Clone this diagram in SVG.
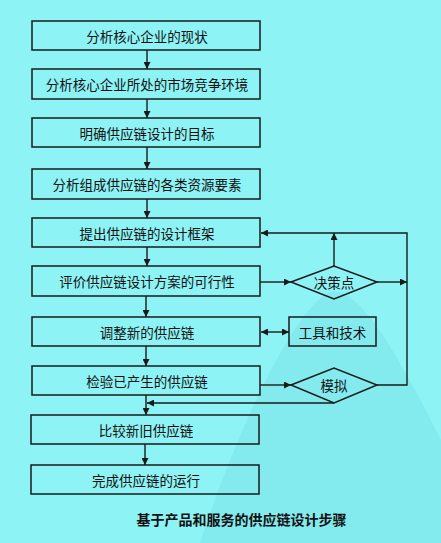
<svg xmlns="http://www.w3.org/2000/svg" width="441" height="543" viewBox="0 0 441 543">
<defs>
<style>
.box{fill:none;stroke:#1a1a1a;stroke-width:1.5}
.t{font-family:"Noto Sans CJK SC","Noto Sans CJK JP",sans-serif;font-size:13.5px;fill:#111;text-anchor:middle;dominant-baseline:central}
.ln{fill:none;stroke:#1a1a1a;stroke-width:1.4}
.cap{font-family:"Noto Sans CJK SC",sans-serif;font-size:14px;font-weight:700;fill:#111;text-anchor:middle;dominant-baseline:central}
</style>
<marker id="ah" viewBox="0 0 10 10" refX="10" refY="5" markerWidth="7" markerHeight="7" markerUnits="userSpaceOnUse" orient="auto-start-reverse">
<path d="M0,0 L10,5 L0,10 Z" fill="#1a1a1a"/>
</marker>
</defs>
<rect width="441" height="543" fill="#8DF3F5"/>
<path d="M200 543 C230 450 290 310 330 292 C360 285 400 360 441 440 L441 543 Z" fill="#83EAEE"/>
<g id="n1"><rect class="box" x="32" y="21" width="228" height="29"/><text class="t" x="147" y="35.5">分析核心企业的现状</text></g>
<g id="n2"><rect class="box" x="32" y="69" width="228" height="30"/><text class="t" x="147" y="84">分析核心企业所处的市场竞争环境</text></g>
<g id="n3"><rect class="box" x="32" y="118" width="228" height="29"/><text class="t" x="147" y="132.5">明确供应链设计的目标</text></g>
<g id="n4"><rect class="box" x="32" y="169" width="228" height="30"/><text class="t" x="147" y="184">分析组成供应链的各类资源要素</text></g>
<g id="n5"><rect class="box" x="32" y="218" width="228" height="29"/><text class="t" x="147" y="232.5">提出供应链的设计框架</text></g>
<g id="n6"><rect class="box" x="32" y="266" width="228" height="30"/><text class="t" x="147" y="281">评价供应链设计方案的可行性</text></g>
<g id="n7"><rect class="box" x="32" y="317" width="228" height="29"/><text class="t" x="147" y="331.5">调整新的供应链</text></g>
<g id="n8"><rect class="box" x="32" y="366" width="228" height="29"/><text class="t" x="147" y="380.5">检验已产生的供应链</text></g>
<g id="n9"><rect class="box" x="31" y="415" width="228" height="29"/><text class="t" x="146" y="429.5">比较新旧供应链</text></g>
<g id="n10"><rect class="box" x="31" y="465" width="228" height="29"/><text class="t" x="146" y="479.5">完成供应链的运行</text></g>
<g id="d1"><polygon class="box" points="291,282 334,266 377,282 334,299"/><text class="t" x="334" y="282">决策点</text></g>
<g id="tools"><rect class="box" x="289" y="317" width="87" height="29"/><text class="t" x="332.5" y="331.5">工具和技术</text></g>
<g id="d2"><polygon class="box" points="291,385 334,368 377,385 334,403"/><text class="t" x="334" y="385">模拟</text></g>
<g id="connectors">
<line class="ln" x1="147" y1="50" x2="147" y2="69" marker-end="url(#ah)"/>
<line class="ln" x1="147" y1="99" x2="147" y2="118" marker-end="url(#ah)"/>
<line class="ln" x1="147" y1="147" x2="147" y2="169" marker-end="url(#ah)"/>
<line class="ln" x1="147" y1="199" x2="147" y2="218" marker-end="url(#ah)"/>
<line class="ln" x1="147" y1="247" x2="147" y2="266" marker-end="url(#ah)"/>
<line class="ln" x1="146" y1="296" x2="146" y2="317" marker-end="url(#ah)"/>
<line class="ln" x1="146" y1="346" x2="146" y2="366" marker-end="url(#ah)"/>
<line class="ln" x1="146" y1="395" x2="146" y2="415" marker-end="url(#ah)"/>
<line class="ln" x1="145" y1="444" x2="145" y2="465" marker-end="url(#ah)"/>
<line class="ln" x1="260" y1="282" x2="291" y2="282" marker-end="url(#ah)"/>
<line class="ln" x1="334" y1="266" x2="334" y2="233" marker-end="url(#ah)"/>
<line class="ln" x1="377" y1="282" x2="407" y2="282" marker-end="url(#ah)"/>
<polyline class="ln" points="377,385 407,385 407,233 261,233" marker-end="url(#ah)"/>
<line class="ln" x1="261" y1="332" x2="289" y2="332" marker-start="url(#ah)" marker-end="url(#ah)"/>
<line class="ln" x1="260" y1="385" x2="291" y2="385" marker-end="url(#ah)"/>
<line class="ln" x1="334" y1="403" x2="147" y2="403" marker-end="url(#ah)"/>
</g>
<text class="cap" x="241.5" y="519">基于产品和服务的供应链设计步骤</text>
</svg>
